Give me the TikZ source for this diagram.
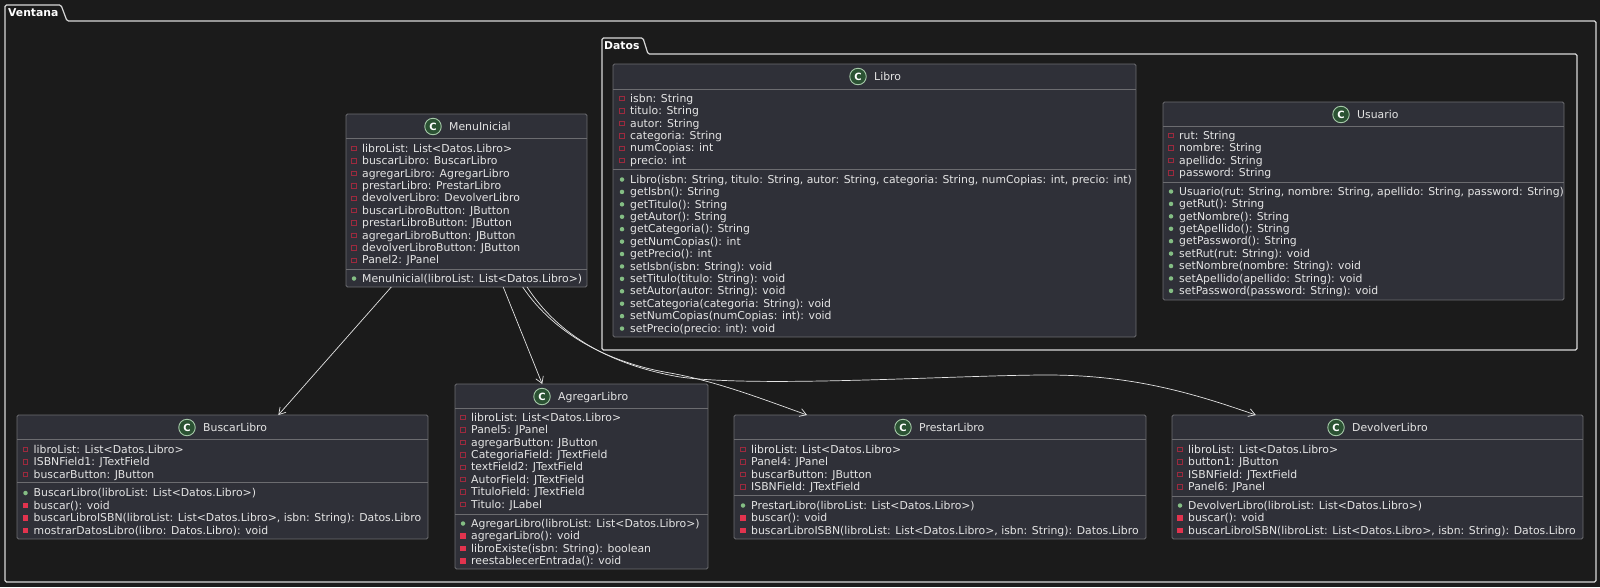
\documentclass[tikz,border=0pt]{standalone}
\usepackage{fontspec}
\setmainfont{DejaVu Sans}
\usepackage{xcolor}
\usetikzlibrary{arrows.meta}

\definecolor{pagebg}{HTML}{1B1B1B}
\definecolor{boxfill}{HTML}{2F3038}
\definecolor{boxline}{HTML}{6C6C70}
\definecolor{membertext}{HTML}{E4E4E4}
\definecolor{framecol}{HTML}{D8D8D8}
\definecolor{iconfill}{HTML}{2B5233}
\definecolor{iconline}{HTML}{A5C8A8}
\definecolor{pubdot}{HTML}{84BE84}
\definecolor{privred}{HTML}{E2334E}
\definecolor{attrred}{HTML}{9C2A3E}

\tikzset{
  classbox/.style={draw=boxline, fill=boxfill, line width=.9pt, rounded corners=1.5pt, inner sep=0pt, outer sep=0pt},
  classline/.style={draw=boxline, line width=.9pt},
  classicon/.style={circle, draw=iconline, fill=iconfill, line width=.9pt, minimum size=16.5pt, inner sep=0pt, text=white, font=\bfseries\fontsize{10}{10}\selectfont},
  classtitle/.style={anchor=base west, inner sep=0pt, text=membertext, font=\fontsize{10.85}{12}\selectfont},
  member/.style={anchor=base west, inner sep=0pt, text=membertext, font=\fontsize{10.85}{12}\selectfont},
  attrmark/.style={draw=attrred, line width=.8pt, fill=none, minimum size=4.5pt, inner sep=0pt},
  privmark/.style={fill=privred, minimum size=5.5pt, inner sep=0pt},
  pubmark/.style={circle, fill=pubdot, minimum size=4.5pt, inner sep=0pt},
  packframe/.style={draw=framecol, line width=1.2pt, rounded corners=1.5pt},
  packlabel/.style={anchor=base west, inner sep=0pt, text=white, font=\bfseries\fontsize{10.8}{12}\selectfont},
  uses/.style={draw=membertext, line width=.7pt, -{Straight Barb[length=6.5pt,width=8pt]}},
}

% name, left, top, right, bottom, header line, member line, icon x
\newcommand{\classbox}[8]{
  \node[classbox, minimum width={(#4-#2)*1pt}, minimum height={(#5-#3)*1pt}] (#1) at ({(#2+#4)/2},{(#3+#5)/2}) {};
  \draw[classline] (#2,#6) -- (#4,#6);
  \draw[classline] (#2,#7) -- (#4,#7);
  \node[classicon] (#1Icon) at (#8,#3+12.5) {C};
  \node[classtitle] (#1Title) at (#8+16,#3+16.3) {#1};
}
% mark style, name prefix, mark x, first row y, rows
\newcommand{\members}[5]{
  \foreach \txt [count=\i from 0] in {#5} {
    \node[#1] (#2Mark\i) at (#3,#4+.5+12.42*\i) {};
    \node[member] (#2Text\i) at (#3+8,#4+4.2+12.42*\i) {\txt};
  }
}

\begin{document}
\begin{tikzpicture}[x=1pt,y=-1pt]
\fill[pagebg] (0,0) rectangle (1600,587);
\useasboundingbox (0,0) rectangle (1600,587);

% packages
\draw[packframe] (5,21) -- (5,5) -- (61,5) -- (67,21) -- (1596,21) -- (1596,582) -- (5,582) -- cycle;
\node[packlabel] (Ventana) at (8,16) {Ventana};
\draw[packframe] (602,54) -- (602,38) -- (643,38) -- (648,54) -- (1577,54) -- (1577,350) -- (602,350) -- cycle;
\node[packlabel] (Datos) at (604,49.5) {Datos};

% classes
\classbox{Libro}{613}{64}{1136}{337}{89}{169}{858}
\members{attrmark}{LibroA}{622}{98}{{isbn: String},{titulo: String},{autor: String},{categoria: String},{numCopias: int},{precio: int}}
\members{pubmark}{LibroM}{622}{179}{{Libro(isbn: String, titulo: String, autor: String, categoria: String, numCopias: int, precio: int)},{getIsbn(): String},{getTitulo(): String},{getAutor(): String},{getCategoria(): String},{getNumCopias(): int},{getPrecio(): int},{setIsbn(isbn: String): void},{setTitulo(titulo: String): void},{setAutor(autor: String): void},{setCategoria(categoria: String): void},{setNumCopias(numCopias: int): void},{setPrecio(precio: int): void}}

\classbox{Usuario}{1163}{102}{1564}{300}{126}{182}{1341}
\members{attrmark}{UsuarioA}{1171}{135}{{rut: String},{nombre: String},{apellido: String},{password: String}}
\members{pubmark}{UsuarioM}{1171}{191}{{Usuario(rut: String, nombre: String, apellido: String, password: String)},{getRut(): String},{getNombre(): String},{getApellido(): String},{getPassword(): String},{setRut(rut: String): void},{setNombre(nombre: String): void},{setApellido(apellido: String): void},{setPassword(password: String): void}}

\classbox{MenuInicial}{346}{114}{587}{287}{138}{269}{433}
\members{attrmark}{MenuA}{354}{148}{{libroList: List<Datos.Libro>},{buscarLibro: BuscarLibro},{agregarLibro: AgregarLibro},{prestarLibro: PrestarLibro},{devolverLibro: DevolverLibro},{buscarLibroButton: JButton},{prestarLibroButton: JButton},{agregarLibroButton: JButton},{devolverLibroButton: JButton},{Panel2: JPanel}}
\members{pubmark}{MenuM}{354}{278}{{MenuInicial(libroList: List<Datos.Libro>)}}

\classbox{BuscarLibro}{17}{415}{428}{539}{439}{482}{187}
\members{attrmark}{BuscarA}{25.5}{449}{{libroList: List<Datos.Libro>},{ISBNField1: JTextField},{buscarButton: JButton}}
\members{pubmark}{BuscarM}{25.5}{492.5}{{BuscarLibro(libroList: List<Datos.Libro>)}}
\members{privmark}{BuscarP}{25.5}{505}{{buscar(): void},{buscarLibroISBN(libroList: List<Datos.Libro>, isbn: String): Datos.Libro},{mostrarDatosLibro(libro: Datos.Libro): void}}

\classbox{AgregarLibro}{455}{384}{708}{569}{408}{514}{542}
\members{attrmark}{AgregarA}{463}{417}{{libroList: List<Datos.Libro>},{Panel5: JPanel},{agregarButton: JButton},{CategoriaField: JTextField},{textField2: JTextField},{AutorField: JTextField},{TituloField: JTextField},{Titulo: JLabel}}
\members{pubmark}{AgregarM}{463}{523}{{AgregarLibro(libroList: List<Datos.Libro>)}}
\members{privmark}{AgregarP}{463}{535.5}{{agregarLibro(): void},{libroExiste(isbn: String): boolean},{reestablecerEntrada(): void}}

\classbox{PrestarLibro}{734}{415}{1146}{539}{439}{495}{903}
\members{attrmark}{PrestarA}{743}{449}{{libroList: List<Datos.Libro>},{Panel4: JPanel},{buscarButton: JButton},{ISBNField: JTextField}}
\members{pubmark}{PrestarM}{743}{505}{{PrestarLibro(libroList: List<Datos.Libro>)}}
\members{privmark}{PrestarP}{743}{517.5}{{buscar(): void},{buscarLibroISBN(libroList: List<Datos.Libro>, isbn: String): Datos.Libro}}

\classbox{DevolverLibro}{1172}{415}{1583}{539}{439}{496}{1336}
\members{attrmark}{DevolverA}{1180}{449}{{libroList: List<Datos.Libro>},{button1: JButton},{ISBNField: JTextField},{Panel6: JPanel}}
\members{pubmark}{DevolverM}{1180}{505}{{DevolverLibro(libroList: List<Datos.Libro>)}}
\members{privmark}{DevolverP}{1180}{517.5}{{buscar(): void},{buscarLibroISBN(libroList: List<Datos.Libro>, isbn: String): Datos.Libro}}

% connectors
\draw[uses] (MenuInicial.-131.5) -- (BuscarLibro.48.7);
\draw[uses] (MenuInicial.-67.7) -- (AgregarLibro.113.1);
\draw[uses] (MenuInicial.-57.3) .. controls (555,335) and (610,363) .. (670,373) .. controls (715,381) and (760,398) .. (PrestarLibro.155.3);
\draw[uses] (MenuInicial.-55.9) .. controls (558,335) and (610,365) .. (680,377) .. controls (760,388) and (960,375) .. (1047,375) .. controls (1130,375) and (1190,392) .. (DevolverLibro.153.5);
\end{tikzpicture}
\end{document}
